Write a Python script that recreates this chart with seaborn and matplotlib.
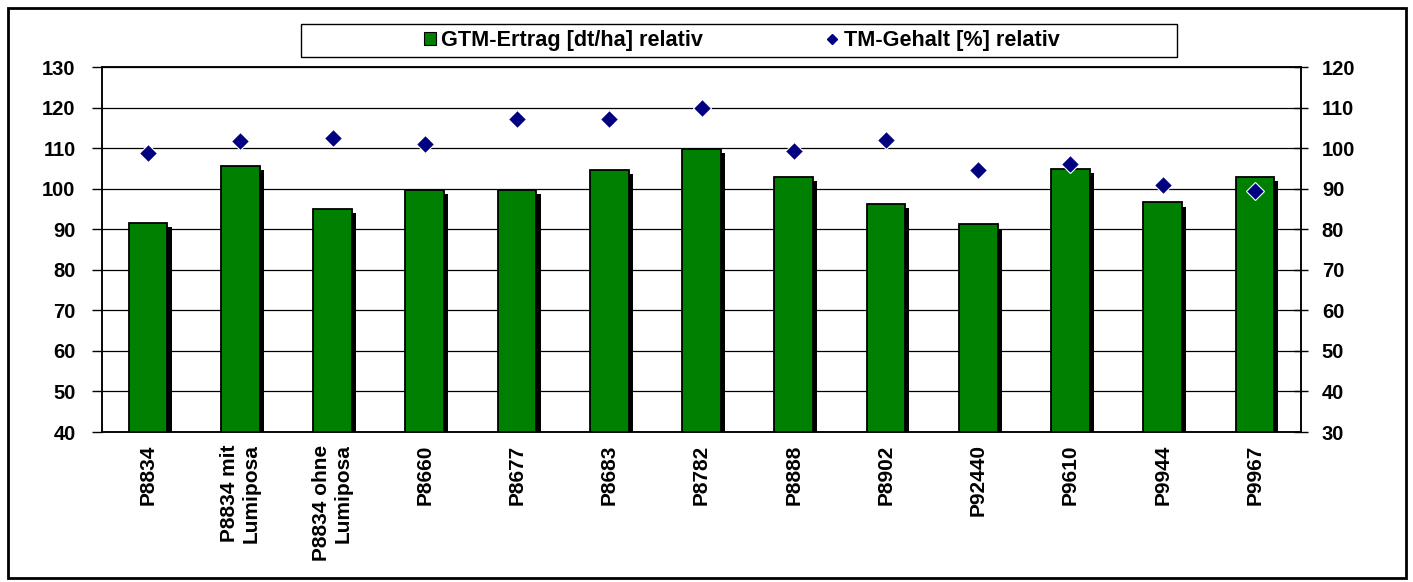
import matplotlib
matplotlib.use("Agg")
import matplotlib.pyplot as plt
import matplotlib.patheffects as pe
from matplotlib.patches import Rectangle, Patch
from matplotlib.lines import Line2D
from matplotlib.ticker import FixedLocator
import seaborn as sns
import pandas as pd

categories = ["P8834", "P8834 mit\nLumiposa", "P8834 ohne\nLumiposa", "P8660", "P8677",
              "P8683", "P8782", "P8888", "P8902", "P92440", "P9610", "P9944", "P9967"]
gtm_ertrag = [91.5, 105.7, 95.0, 99.6, 99.6, 104.6, 109.7, 102.9, 96.2, 91.2, 104.8, 96.6, 103.0]
tm_gehalt = [98.9, 101.7, 102.4, 101.0, 107.2, 107.2, 109.8, 99.3, 102.0, 94.5, 96.0, 90.9, 89.5]
left_ticks = [40, 50, 60, 70, 80, 90, 100, 110, 120, 130]
right_ticks = [30, 40, 50, 60, 70, 80, 90, 100, 110, 120]
series_names = ["GTM-Ertrag [dt/ha] relativ", "TM-Gehalt [%] relativ"]

df = pd.DataFrame({"cat": categories, "gtm": gtm_ertrag, "tm": tm_gehalt})

sns.set_theme(style="white")
plt.rcParams["font.family"] = ["Liberation Sans", "DejaVu Sans"]
plt.rcParams["font.weight"] = "bold"
plt.rcParams["text.color"] = "black"
plt.rcParams["xtick.color"] = "black"
plt.rcParams["ytick.color"] = "black"
plt.rcParams["xtick.labelcolor"] = "black"
plt.rcParams["ytick.labelcolor"] = "black"

W, H = 1413, 582
fig = plt.figure(figsize=(W / 100, H / 100), dpi=100)
fig.patch.set_facecolor("white")
ax = fig.add_axes([102 / W, 1 - 432 / H, (1301 - 102) / W, (432 - 67) / H])
ax.set_facecolor("white")

GREEN = "#008000"
NAVY = "#000080"

sns.barplot(data=df, x="cat", y="gtm", ax=ax, color=GREEN, saturation=1,
            edgecolor="black", linewidth=1.3, width=0.42, zorder=3)
for p in ax.patches:
    p.set_path_effects([pe.SimplePatchShadow(offset=(3.0, -3.0), shadow_rgbFace="black", alpha=1.0),
                        pe.Normal()])

ax.set_ylim(left_ticks[0], left_ticks[-1])
ax.yaxis.set_major_locator(FixedLocator(left_ticks))
ax.set_xlim(-0.5, len(categories) - 0.5)
ax.grid(axis="y", color="black", linewidth=0.9, zorder=0)
ax.set_axisbelow(True)
ax.set_xlabel("")
ax.set_ylabel("")

ax.set_xticks(range(len(categories)))
ax.set_xticklabels(categories, rotation=90, fontsize=15, fontweight="bold",
                   ha="center", va="top", multialignment="right", color="black")
ax.tick_params(axis="x", which="major", length=0, pad=9)
ax.xaxis.set_minor_locator(FixedLocator([i - 0.5 for i in range(len(categories) + 1)]))
ax.tick_params(axis="x", which="minor", direction="inout", length=11, width=1, color="black")
ax.tick_params(axis="y", direction="out", length=7, width=1, color="black",
               labelsize=14.5, pad=12, labelcolor="black")
for lab in ax.get_yticklabels():
    lab.set_fontweight("bold")

for s in ax.spines.values():
    s.set_color("black")
    s.set_linewidth(1.1)

ax2 = ax.twinx()
sns.pointplot(data=df, x="cat", y="tm", ax=ax2, color=NAVY, markers="D",
              linestyle="none", errorbar=None, markersize=9,
              markeredgecolor="white", markeredgewidth=0.8, zorder=5)
ax2.set_ylim(right_ticks[0], right_ticks[-1])
ax2.yaxis.set_major_locator(FixedLocator(right_ticks))
ax2.set_xlim(-0.5, len(categories) - 0.5)
ax2.set_ylabel("")
ax2.set_xlabel("")
ax2.tick_params(axis="x", which="both", length=0, labelbottom=False)
ax2.tick_params(axis="y", direction="inout", length=10, width=1, color="black",
                labelsize=14.5, pad=10, labelcolor="black")
for lab in ax2.get_yticklabels():
    lab.set_fontweight("bold")
for s in ax2.spines.values():
    s.set_color("black")
    s.set_linewidth(1.1)
ax2.grid(False)

# legend box and legend
fig.add_artist(Rectangle((301 / W, 1 - 57 / H), (1177 - 301) / W, (57 - 24) / H,
                         transform=fig.transFigure, facecolor="white",
                         edgecolor="black", linewidth=1.0))
handles = [Patch(facecolor=GREEN, edgecolor="black", linewidth=0.8),
           Line2D([], [], linestyle="none", marker="D", color=NAVY, markersize=5.6)]
fig.legend(handles, series_names, loc="center", bbox_to_anchor=(741.5 / W, 1 - 40.5 / H),
           ncol=2, frameon=False, prop={"weight": "bold", "size": 15.6},
           handlelength=0.55, handleheight=0.55, handletextpad=0.25, columnspacing=5.7)

# outer border
fig.add_artist(Rectangle((8 / W, 4 / H), (1406 - 8) / W, (574 - 4) / H,
                         transform=fig.transFigure, facecolor="none",
                         edgecolor="black", linewidth=2.0))

fig.savefig("out.png", dpi=100, facecolor="white")
